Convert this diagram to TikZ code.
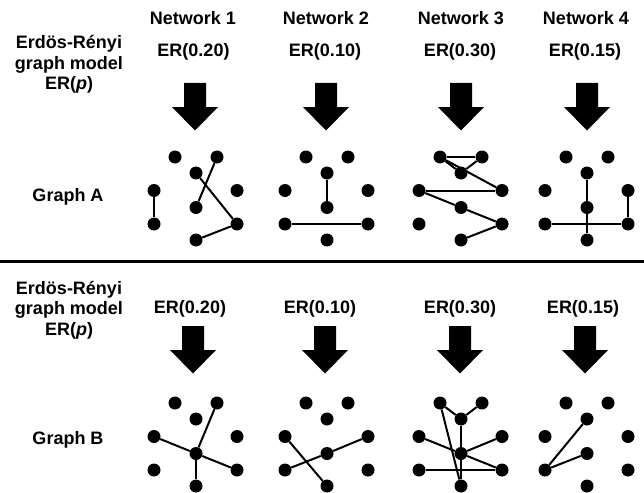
\documentclass[tikz,border=0pt]{standalone}
\usepackage{fontspec}
\setmainfont{Liberation Sans}
\begin{document}
\begin{tikzpicture}[x=1pt,y=-1pt,
  dot/.style={circle,fill=black,inner sep=0pt,minimum size=13pt},
  edge/.style={line width=2pt,black},
  lbl/.style={font=\fontsize{18}{20.5}\selectfont\bfseries,inner sep=0pt,anchor=base},
  side/.style={font=\fontsize{18}{20.5}\selectfont\bfseries,inner sep=0pt,align=center,anchor=base},
  blockarrow/.style={fill=black}]
\useasboundingbox (0,0) rectangle (644,492);

% nine-vertex layout of one sampled graph: #1 prefix, #2 centre x, #3 top y
\newcommand\graphdots[3]{%
  \node[dot] (#1tl) at (#2-21,#3) {};
  \node[dot] (#1tr) at (#2+21,#3) {};
  \node[dot] (#1ct) at (#2,#3+16) {};
  \node[dot] (#1lm) at (#2-42,#3+33.5) {};
  \node[dot] (#1rm) at (#2+41,#3+33.5) {};
  \node[dot] (#1c)  at (#2,#3+50.5) {};
  \node[dot] (#1lb) at (#2-42,#3+67) {};
  \node[dot] (#1rb) at (#2+41,#3+67) {};
  \node[dot] (#1b)  at (#2,#3+83) {};
}
% thick downward block arrow: #1 centre x, #2 top y
\newcommand\blockdown[2]{%
  \fill[blockarrow] (#1-11,#2) -- (#1+11,#2) -- (#1+11,#2+24)
    -- (#1+23,#2+24) -- (#1,#2+47.5) -- (#1-23,#2+24)
    -- (#1-11,#2+24) -- cycle;
}

% ---------- upper panel ----------
\node[side] (erA) at (69,90) {Erdös-Rényi\\graph model\\ER(\textit{p})};
\node[lbl] (gA) at (68,201.5) {Graph A};

\node[lbl] (n1) at (193,25) {Network 1};
\node[lbl] (n2) at (326,25) {Network 2};
\node[lbl] (n3) at (461,25) {Network 3};
\node[lbl] (n4) at (586,25) {Network 4};

\node[lbl] (pA1) at (193.5,57) {ER(0.20)};
\node[lbl] (pA2) at (325,57) {ER(0.10)};
\node[lbl] (pA3) at (460,57) {ER(0.30)};
\node[lbl] (pA4) at (585,57) {ER(0.15)};

\blockdown{195}{83}
\blockdown{326}{83}
\blockdown{461}{83}
\blockdown{587}{83}

\graphdots{a1}{196}{157}
\graphdots{a2}{327}{157}
\graphdots{a3}{461}{157}
\graphdots{a4}{587}{157}

\draw[edge] (a1lm) -- (a1lb);
\draw[edge] (a1tr) -- (a1c);
\draw[edge] (a1ct) -- (a1rb);
\draw[edge] (a1rb) -- (a1b);

\draw[edge] (a2ct) -- (a2c);
\draw[edge] (a2lb) -- (a2rb);

\draw[edge] (a3tl) -- (a3tr);
\draw[edge] (a3tl) -- (a3ct);
\draw[edge] (a3tr) -- (a3ct);
\draw[edge] (a3tl) -- (a3rm);
\draw[edge] (a3lm) -- (a3rm);
\draw[edge] (a3lm) -- (a3c);
\draw[edge] (a3c) -- (a3rb);
\draw[edge] (a3rb) -- (a3b);

\draw[edge] (a4ct) -- (a4c);
\draw[edge] (a4c) -- (a4b);
\draw[edge] (a4lb) -- (a4rb);
\draw[edge] (a4rm) -- (a4rb);

% ---------- separator ----------
\coordinate (sepL) at (0,261);
\coordinate (sepR) at (644,261);
\draw[line width=3pt] (sepL) -- (sepR);

% ---------- lower panel ----------
\node[side] (erB) at (69,335) {Erdös-Rényi\\graph model\\ER(\textit{p})};
\node[lbl] (gB) at (68,444) {Graph B};

\node[lbl] (pB1) at (190,313) {ER(0.20)};
\node[lbl] (pB2) at (320,313) {ER(0.10)};
\node[lbl] (pB3) at (460,313) {ER(0.30)};
\node[lbl] (pB4) at (583,313) {ER(0.15)};

\blockdown{193}{326}
\blockdown{325}{326}
\blockdown{460}{326}
\blockdown{585}{326}

\graphdots{b1}{196}{403}
\graphdots{b2}{327}{403}
\graphdots{b3}{461}{403}
\graphdots{b4}{587}{403}

\draw[edge] (b1tr) -- (b1c);
\draw[edge] (b1lm) -- (b1c);
\draw[edge] (b1c) -- (b1rb);
\draw[edge] (b1c) -- (b1b);

\draw[edge] (b2lm) -- (b2b);
\draw[edge] (b2lb) -- (b2c);
\draw[edge] (b2c) -- (b2rm);

\draw[edge] (b3tl) -- (b3ct);
\draw[edge] (b3tr) -- (b3ct);
\draw[edge] (b3ct) -- (b3c);
\draw[edge] (b3tl) -- (b3b);
\draw[edge] (b3lm) -- (b3c);
\draw[edge] (b3c) -- (b3rm);
\draw[edge] (b3c) -- (b3rb);
\draw[edge] (b3lb) -- (b3rb);
\draw[edge] (b3c) -- (b3b);

\draw[edge] (b4lb) -- (b4ct);
\draw[edge] (b4lb) -- (b4c);
\end{tikzpicture}
\end{document}
